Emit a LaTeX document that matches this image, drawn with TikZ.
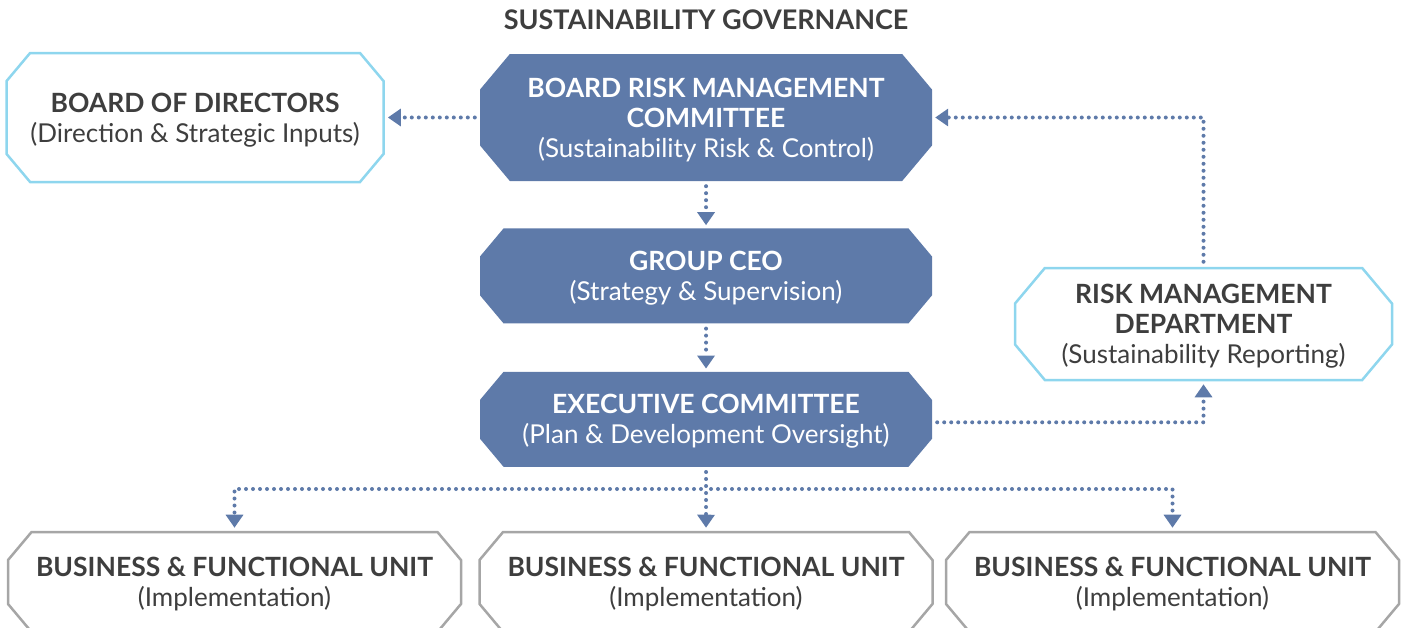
\documentclass[tikz,border=0pt]{standalone}
\usepackage{fontspec}
\setmainfont{Lato}
\usepackage{tikz}
\usetikzlibrary{shapes.misc, arrows.meta, positioning}
\definecolor{govblue}{RGB}{94,122,169}
\definecolor{govsky}{RGB}{142,214,238}
\definecolor{govgray}{RGB}{166,166,166}
\definecolor{govtext}{RGB}{62,62,62}
\newcommand{\boxhead}[1]{{\fontsize{26.5}{30}\selectfont\bfseries #1}}
\tikzstyle{octagon} = [chamfered rectangle, chamfered rectangle xsep=27pt, chamfered rectangle angle=40, inner sep=0pt, align=center, font=\fontsize{26}{30}\selectfont, text depth=-3pt]
\tikzstyle{committee} = [octagon, fill=govblue, text=white, minimum width=452pt]
\tikzstyle{advisory} = [octagon, draw=govsky, line width=2.5pt, fill=white, text=govtext, minimum width=377pt]
\tikzstyle{unit} = [octagon, draw=govgray, line width=2.5pt, fill=white, text=govtext, minimum width=453pt, minimum height=100pt]
\tikzstyle{arrow} = [line width=4pt, line cap=round, dash pattern=on 0pt off 7pt, draw=govblue, -{Triangle[length=13pt,width=17pt]}, shorten <=5pt, shorten >=3pt]

\begin{document}
\begin{tikzpicture}[x=1pt, y=-1pt]
\useasboundingbox (0,0) rectangle (1407,627);

\node (title) at (706,20) [font=\bfseries\fontsize{27}{30}\selectfont, text=govtext] {SUSTAINABILITY GOVERNANCE};

\node (brmc) at (706,117.5) [committee, minimum height=127pt] {\boxhead{BOARD RISK MANAGEMENT}\\\boxhead{COMMITTEE}\\(Sustainability Risk \& Control)};
\node (ceo) [committee, minimum height=95pt, below=47pt of brmc] {\boxhead{GROUP CEO}\\(Strategy \& Supervision)};
\node (exco) [committee, minimum height=95pt, below=48pt of ceo] {\boxhead{EXECUTIVE COMMITTEE}\\(Plan \& Development Oversight)};

\node (board) [advisory, minimum height=129pt, left=95pt of brmc] {\boxhead{BOARD OF DIRECTORS}\\(Direction \& Strategic Inputs)};
\node (rmd) at (1203.5,324) [advisory, minimum height=112pt] {\boxhead{RISK MANAGEMENT}\\\boxhead{DEPARTMENT}\\(Sustainability Reporting)};

\node (unit1) at (234.5,582) [unit] {\boxhead{BUSINESS \& FUNCTIONAL UNIT}\\(Implementation)};
\node (unit2) at (706,582) [unit] {\boxhead{BUSINESS \& FUNCTIONAL UNIT}\\(Implementation)};
\node (unit3) at (1172.5,582) [unit] {\boxhead{BUSINESS \& FUNCTIONAL UNIT}\\(Implementation)};
\coordinate [below=22pt of exco] (split);

\draw [arrow] (brmc) -- (board);
\draw [arrow] (brmc) -- (ceo);
\draw [arrow] (ceo) -- (exco);
\draw [arrow] (rmd.north) |- (brmc.east);
\draw [arrow] ([yshift=-3pt]exco.east) -| (rmd.south);
\draw [arrow] (exco) -- (unit2);
\draw [arrow] (split) -| (unit1);
\draw [arrow] (split) -| (unit3);

\end{tikzpicture}
\end{document}
